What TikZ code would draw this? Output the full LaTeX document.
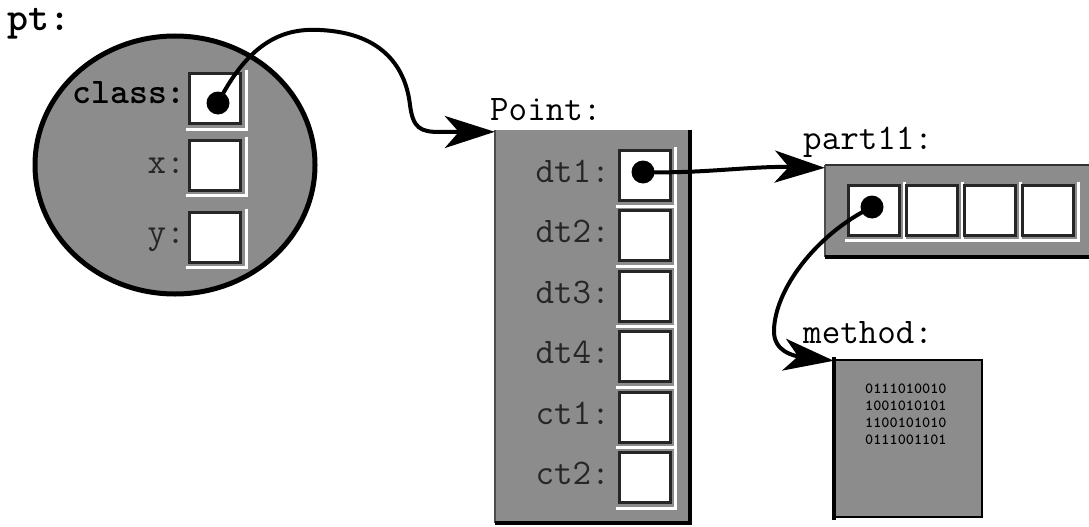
\documentclass[tikz,border=0pt]{standalone}
\usetikzlibrary{arrows.meta}
\usetikzlibrary{shapes.geometric}

\tikzset{
  memory/.style={fill=black!45, inner sep=0pt},
  slot/.style={fill=white, draw=black!85, line width=3pt, minimum width=51pt, minimum height=50pt, inner sep=0pt},
  glint/.style={white, line width=3pt},
  rim/.style={black, line width=4pt},
  ref/.style={circle, fill=black, minimum size=23pt, inner sep=0pt},
  title/.style={font=\fontsize{36}{40}\selectfont\ttfamily, inner sep=0pt},
  field/.style={font=\fontsize{36}{40}\selectfont\ttfamily, inner sep=0pt, text=black!85},
  ptr/.style={line width=4pt, -{Stealth[length=50pt, width=32pt, inset=14pt]}},
}

% white highlight on the lower right of a slot
\newcommand{\glint}[1]{\draw[glint] ([xshift=4pt,yshift=2pt]#1.north east) |- ([xshift=-2pt,yshift=-4pt]#1.south west);}

\begin{document}
\begin{tikzpicture}[x=1pt,y=-1pt]
  \useasboundingbox (0,0) rectangle (1089,527);

  % the object pt
  \node[title, font=\fontsize{40}{44}\selectfont\ttfamily\bfseries, anchor=base west] (ptname) at (7,31) {pt:};
  \node[memory, ellipse, draw=black, line width=5pt, minimum width=280pt, minimum height=258pt] (pt) at (175,165) {};
  \node[slot] (cls) at (215,98.5) {};  \glint{cls}
  \node[slot] (x) at (215,165) {};     \glint{x}
  \node[slot] (y) at (215,237) {};     \glint{y}
  \node[field, font=\fontsize{36}{40}\selectfont\ttfamily\bfseries, text=black, anchor=base east] at (186,103) {class:};
  \node[field, anchor=base east] at (185,173) {x:};
  \node[field, anchor=base east] at (185,243) {y:};

  % class Point
  \node[title, anchor=base west] (pointname) at (490,120) {Point:};
  \node[memory, minimum width=195pt, minimum height=393pt] (point) at (592.5,326.5) {};
  \draw[black!70, line width=1.5pt] (point.north west) -- (point.south west);
  \draw[rim] (point.north east) |- (point.south west);
  \foreach \name [count=\i from 0] in {dt1,dt2,dt3,dt4,ct1,ct2} {
    \node[slot] (\name) at (644.5,{175.5+60.4*\i}) {};
    \glint{\name}
    \node[field, anchor=base east] at (610,{182.5+60.4*\i}) {\name:};
  }

  % part11
  \node[title, anchor=base west] (partname) at (803,149) {part11:};
  \node[memory, minimum width=264pt, minimum height=92pt] (part) at (957,211) {};
  \draw[black!80, line width=2pt] (part.north west) -- (part.north east);
  \draw[black!70, line width=1.5pt] (part.north west) -- (part.south west);
  \draw[rim] (part.south west) -- (part.south east);
  \foreach \i in {1,...,4} {
    \node[slot] (part\i) at ({815.5+58*\i},210) {};
    \glint{part\i}
  }

  % method
  \node[title, anchor=base west] (methodname) at (803,343) {method:};
  \node[memory, draw=black, line width=2.5pt, minimum width=147pt, minimum height=157pt] (method) at (908.5,438.5) {};
  \draw[black, line width=4pt] ([yshift=2pt]method.north west) -- ([yshift=-2pt]method.south west);
  \node[anchor=north west, align=left, inner sep=0pt, font=\fontsize{15.5}{17}\selectfont\ttfamily\bfseries] (bits) at (865,384)
    {0111010010\\1001010101\\1100101010\\0111001101};

  % references
  \node[ref] (clsref) at (218,103) {};
  \node[ref] (dtref) at (643,172) {};
  \node[ref] (partref) at (872,207) {};

  \draw[ptr] (clsref.center) .. controls (250,40) and (285,28) .. (320,30)
    .. controls (385,33) and (406,70) .. (410,105)
    .. controls (413,128) and (420,132) .. (440,132) -- ([yshift=-2pt]point.north west);
  \draw[ptr] (dtref.center) .. controls (700,174) and (750,166) .. ([yshift=-3pt]part.north west);
  \draw[ptr] (partref.center) .. controls (815,235) and (775,290) .. (774,330)
    .. controls (773,352) and (795,356) .. ([yshift=-2pt]method.north west);
\end{tikzpicture}
\end{document}
